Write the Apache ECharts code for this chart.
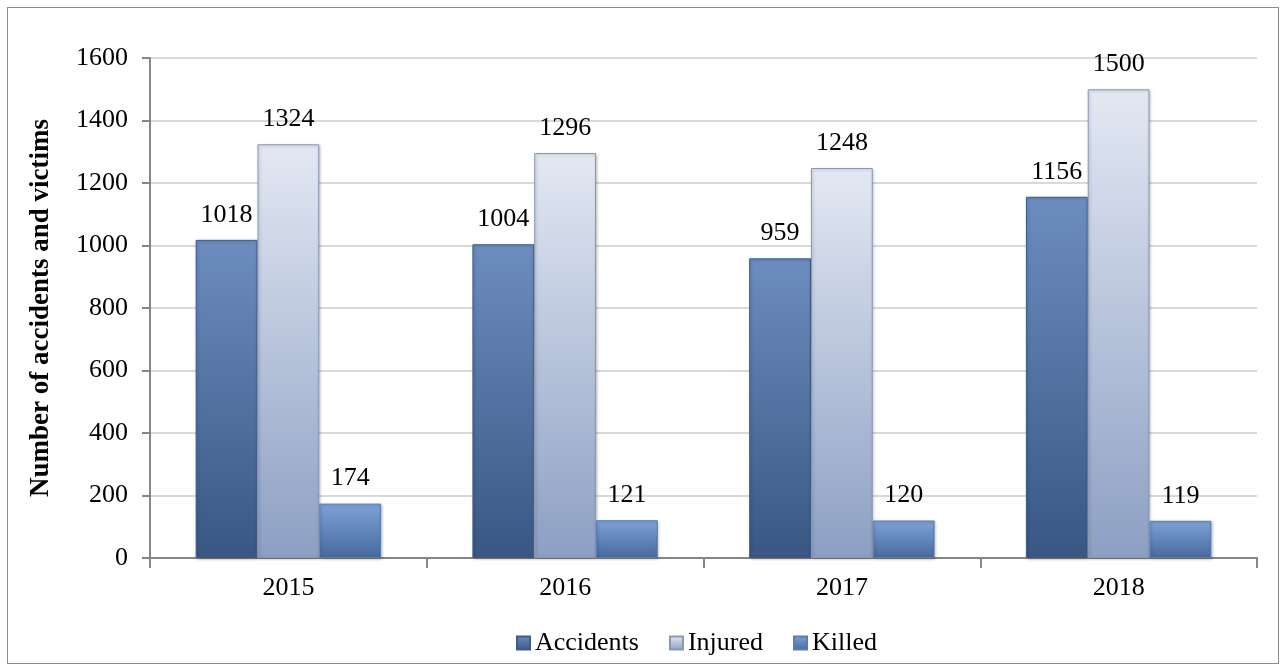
<!DOCTYPE html>
<html>
<head>
<meta charset="utf-8">
<script src="https://cdn.jsdelivr.net/npm/echarts@6/dist/echarts.min.js"></script>
<style>
  html, body { margin: 0; padding: 0; background: #fff; }
  #frame { position: absolute; left: 7px; top: 7px; width: 1272px; height: 657px; border: 1px solid #8c8c8c; box-sizing: border-box; }
  #chart { position: absolute; left: 0; top: 0; width: 1287px; height: 670px; }
</style>
</head>
<body>
<div id="frame"></div>
<div id="chart"></div>
<script>
// Road accident statistics by year
const years = ['2015', '2016', '2017', '2018'];
const accidents = [1018, 1004, 959, 1156];
const injured = [1324, 1296, 1248, 1500];
const killed = [174, 121, 120, 119];
const seriesNames = ['Accidents', 'Injured', 'Killed'];

const serif = '"Liberation Serif", "Times New Roman", serif';

function grad(top, bottom) {
  return new echarts.graphic.LinearGradient(0, 0, 0, 1, [
    { offset: 0, color: top },
    { offset: 1, color: bottom }
  ]);
}

const styles = [
  { color: grad('#6c8dbf', '#385783'), border: '#3d5c8a' },
  { color: grad('#e3e8f3', '#8c9fc3'), border: '#8a98b4' },
  { color: grad('#7ea3d9', '#46699e'), border: '#5a7cae' }
];

const dataSets = [accidents, injured, killed];

const chart = echarts.init(document.getElementById('chart'), null, { renderer: 'canvas' });

chart.setOption({
  animation: false,
  backgroundColor: 'transparent',
  grid: { left: 150, right: 30, top: 58, bottom: 112, containLabel: false },
  legend: {
    bottom: 9,
    left: 511,
    itemWidth: 13,
    itemHeight: 13,
    itemGap: 30,
    icon: 'rect',
    textStyle: { fontFamily: serif, fontSize: 26, color: '#000' },
    data: seriesNames
  },
  xAxis: {
    type: 'category',
    data: years,
    axisLine: { lineStyle: { color: '#868686', width: 2 } },
    axisTick: { show: true, length: 10, lineStyle: { color: '#868686', width: 2 } },
    axisLabel: { fontFamily: serif, fontSize: 26, color: '#000', margin: 17 }
  },
  yAxis: {
    type: 'value',
    min: 0,
    max: 1600,
    interval: 200,
    name: 'Number of accidents and victims',
    nameLocation: 'middle',
    nameGap: 95,
    nameRotate: 90,
    nameTextStyle: { fontFamily: serif, fontSize: 27, fontWeight: 'bold', color: '#000' },
    axisLine: { show: true, lineStyle: { color: '#868686', width: 2 } },
    axisTick: { show: true, length: 8, lineStyle: { color: '#868686', width: 2 } },
    axisLabel: { fontFamily: serif, fontSize: 26, color: '#000', margin: 22, formatter: v => String(v) },
    splitLine: { lineStyle: { color: '#d9d9d9', width: 2 } }
  },
  series: seriesNames.map((name, i) => ({
    name: name,
    type: 'bar',
    data: dataSets[i],
    barGap: '0%',
    barCategoryGap: '33%',
    itemStyle: {
      color: styles[i].color,
      borderColor: styles[i].border,
      borderWidth: 1,
      shadowColor: 'rgba(0,0,0,0.25)',
      shadowBlur: 3,
      shadowOffsetX: 1,
      shadowOffsetY: 1
    },
    label: {
      show: true,
      position: 'top',
      distance: 12,
      fontFamily: serif,
      fontSize: 26,
      color: '#000'
    }
  }))
});
</script>
</body>
</html>
